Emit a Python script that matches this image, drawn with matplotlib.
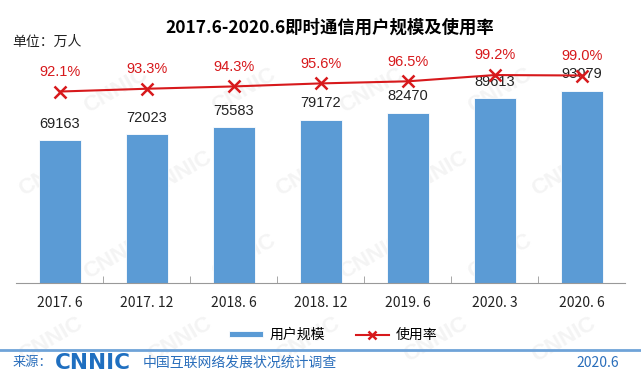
import matplotlib
matplotlib.use("Agg")
import matplotlib.pyplot as plt
import numpy as np

plt.rcParams['font.family'] = ['Liberation Sans', 'Noto Sans CJK SC', 'DejaVu Sans']

# data
periods = ['2017. 6', '2017. 12', '2018. 6', '2018. 12', '2019. 6', '2020. 3', '2020. 6']
users = [69163, 72023, 75583, 79172, 82470, 89613, 93079]   # 万人
rate = [92.1, 93.3, 94.3, 95.6, 96.5, 99.2, 99.0]           # %

bar_color = '#5b9bd5'
line_color = '#d7191c'
blue_text = '#2a6ebb'
cjk = ['Noto Sans CJK SC', 'DejaVu Sans']

fig = plt.figure(figsize=(6.41, 3.77), dpi=100)

# faint CNNIC watermark on a background axes, behind everything
bg = fig.add_axes([0, 0, 1, 1], zorder=-5)
bg.set_axis_off()
bg.set_xlim(0, 1)
bg.set_ylim(0, 1)
for row, yy in enumerate(np.arange(0.1, 0.95, 0.22)):
    for xx in np.arange(0.08 + (row % 2) * 0.1, 0.95, 0.2):
        bg.text(xx, yy, 'CNNIC', rotation=30, fontsize=16, color='#f4f4f4',
                fontweight='bold', ha='center', va='center')

ax = fig.add_axes([0.0257, 0.249, 0.9501, 0.592])
ax.patch.set_alpha(0)
x = np.arange(len(periods))
ax.bar(x, users, width=0.48, color=bar_color, edgecolor='white', linewidth=0.6,
       label='用户规模', zorder=2)
for xi, v in zip(x, users):
    ax.text(xi, v + 4500, str(v), ha='center', va='bottom', fontsize=10.5,
            color='#222222', zorder=5)
ax.set_xlim(-0.5, len(periods) - 0.5)
ax.set_ylim(0, 108000)
ax.set_yticks([])
for s in ['top', 'left', 'right']:
    ax.spines[s].set_visible(False)
ax.spines['bottom'].set_color('#999999')
ax.set_xticks(x)
ax.set_xticklabels(periods, family=cjk, fontsize=10, color='#222222')
ax.tick_params(axis='x', which='major', length=0, pad=9)
ax.set_xticks(np.arange(0.5, len(periods) - 1, 1), minor=True)
ax.tick_params(axis='x', which='minor', length=5, color='#999999', direction='in')

ax2 = ax.twinx()
ax2.plot(x, rate, color=line_color, lw=1.5, marker='x', ms=8, mew=1.8,
         label='使用率', zorder=4)
for xi, r in zip(x, rate):
    ax2.text(xi, r + 5.5, f'{r:.1f}%', ha='center', va='bottom', fontsize=10.5,
             color=line_color)
ax2.set_ylim(9.6, 105.7)
ax2.set_yticks([])
for s in ['top', 'left', 'right', 'bottom']:
    ax2.spines[s].set_visible(False)

h1, l1 = ax.get_legend_handles_labels()
h2, l2 = ax2.get_legend_handles_labels()
fig.legend(h1 + h2, l1 + l2, loc='center', bbox_to_anchor=(0.52, 0.112), ncol=2,
           frameon=False, prop={'family': cjk, 'size': 10}, handlelength=2.4,
           handleheight=0.35, columnspacing=2.2, handletextpad=0.5, markerscale=0.8)

fig.text(0.515, 0.927, '2017.6-2020.6即时通信用户规模及使用率', ha='center', va='center',
         fontsize=12.5, fontweight='bold', family=cjk)
fig.text(0.019, 0.888, '单位：万人', ha='left', va='center', fontsize=10, family=cjk,
         color='#222222')

# footer
fig.add_artist(plt.Line2D([0, 1], [0.072, 0.072], color='#6fa3d8', lw=2))
fig.text(0.019, 0.038, '来源：', ha='left', va='center', fontsize=9.5, family=cjk,
         color=blue_text)
fig.text(0.086, 0.038, 'CNNIC', ha='left', va='center', fontsize=15.5, fontweight='bold',
         color='#1f6fc0', family=['DejaVu Sans'])
fig.text(0.223, 0.038, '中国互联网络发展状况统计调查', ha='left', va='center', fontsize=10,
         family=cjk, color=blue_text)
fig.text(0.965, 0.038, '2020.6', ha='right', va='center', fontsize=10, family=cjk,
         color=blue_text)

fig.savefig('out.png', dpi=100)
